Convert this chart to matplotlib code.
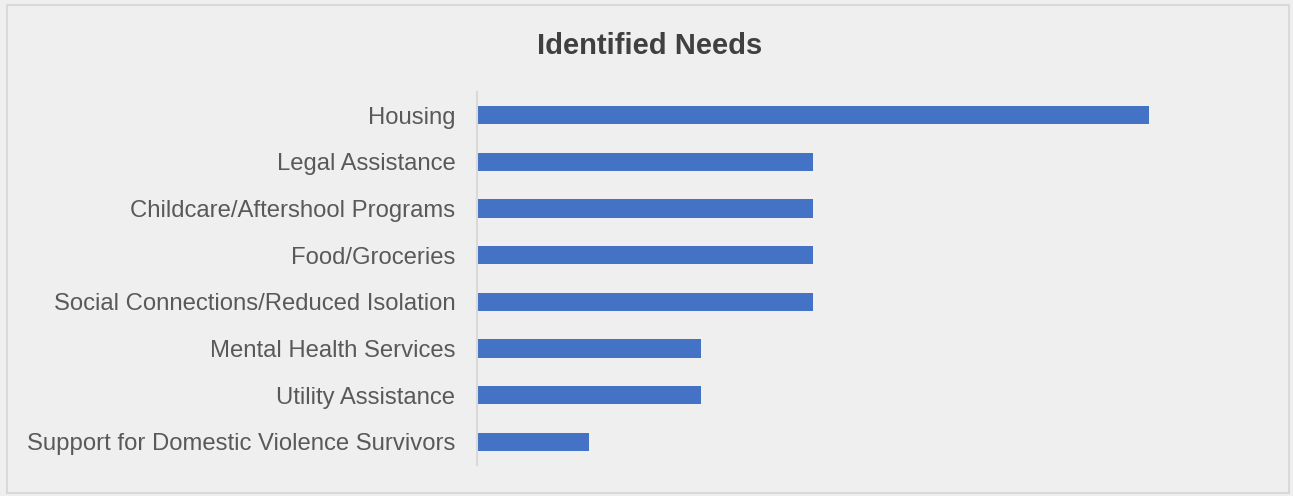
import matplotlib
matplotlib.use('Agg')
import matplotlib.pyplot as plt
from matplotlib.patches import Rectangle

plt.rcParams['font.family'] = ['Liberation Sans', 'DejaVu Sans']

# datos
necesidades = ['Housing', 'Legal Assistance', 'Childcare/Aftershool Programs',
               'Food/Groceries', 'Social Connections/Reduced Isolation',
               'Mental Health Services', 'Utility Assistance',
               'Support for Domestic Violence Survivors']
conteo = [6, 3, 3, 3, 3, 2, 2, 1]

fondo = '#EFEFEF'
fig = plt.figure(figsize=(12.93, 4.96), dpi=100, facecolor=fondo)

# marco gris alrededor
fig.patches.append(Rectangle((7/1293, 3/496), 1282/1293, 488/496, transform=fig.transFigure,
                             fill=False, edgecolor='#D9D9D9', linewidth=1.5))

ax = fig.add_axes([477/1293, 31/496, 784/1293, 373/496])
ax.set_facecolor(fondo)

pos = list(range(len(necesidades)))
ax.barh(pos, conteo, height=0.39, color='#4472C4')
ax.set_xlim(0, 7)
ax.set_ylim(len(necesidades) - 0.5, -0.5)
ax.set_yticks(pos)
ax.set_yticklabels(necesidades, fontsize=17.2, color='#595959')
ax.tick_params(axis='y', length=0, pad=15.5)
ax.set_xticks([])

for lado in ['top', 'right', 'bottom']:
    ax.spines[lado].set_visible(False)
ax.spines['left'].set_color('#D9D9D9')
ax.spines['left'].set_linewidth(1.5)

fig.text(650/1293, 1 - 46/496, 'Identified Needs', ha='center', va='center',
         fontsize=21, fontweight='bold', color='#404040')

fig.savefig('out.png', dpi=100, facecolor=fondo)
